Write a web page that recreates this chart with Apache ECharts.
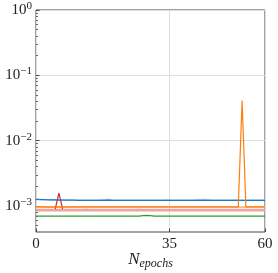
<!DOCTYPE html>
<html><head><meta charset="utf-8">
<script src="https://cdn.jsdelivr.net/npm/echarts@6/dist/echarts.min.js"></script>
<style>html,body{margin:0;padding:0;background:#fff}#c{width:278px;height:273px}</style>
</head><body><div id="c"></div>
<script>
const epochs = Array.from({length: 61}, (_, i) => i);
const xTicks = [0, 35, 60];
const yMajorTicks = [1e-3, 1e-2, 1e-1, 1];
const yMinorTicks = [5e-4,6e-4,7e-4,8e-4,9e-4,2e-3,3e-3,4e-3,5e-3,6e-3,7e-3,8e-3,9e-3,2e-2,3e-2,4e-2,5e-2,6e-2,7e-2,8e-2,9e-2,0.2,0.3,0.4,0.5,0.6,0.7,0.8,0.9];
const blue = [1.26,1.25,1.25,1.24,1.24,1.24,1.23,1.23,1.23,1.23,1.23,1.22,1.22,1.22,1.22,1.22,1.22,1.22,1.22,1.23,1.22,1.22,1.22,1.22,1.22,1.22,1.22,1.22,1.22,1.22,1.22,1.22,1.22,1.22,1.22,1.22,1.22,1.22,1.22,1.22,1.22,1.22,1.22,1.22,1.22,1.22,1.22,1.22,1.22,1.22,1.22,1.22,1.22,1.22,1.22,1.22,1.22,1.22,1.22,1.22,1.22].map(v=>v*1e-3);
const lightBlue = [1.27,1.26,1.25,1.25,1.24,1.24,1.24,1.24,1.23,1.23,1.23,1.23,1.23,1.23,1.23,1.23,1.23,1.24,1.25,1.26,1.24,1.23,1.23,1.23,1.23,1.23,1.23,1.23,1.23,1.23,1.23,1.23,1.23,1.23,1.24,1.23,1.23,1.23,1.23,1.23,1.23,1.23,1.24,1.25,1.26,1.25,1.23,1.23,1.23,1.23,1.23,1.23,1.24,1.23,1.23,1.23,1.23,1.23,1.23,1.23,1.23].map(v=>v*1e-3);
const orange = [0.98,0.98,0.97,0.97,0.97,0.97,0.97,0.97,0.97,0.97,0.97,0.97,0.97,0.97,0.97,0.97,0.97,0.97,0.97,0.97,0.97,0.97,0.97,0.97,0.97,0.97,0.97,0.97,0.97,0.97,0.97,0.97,0.97,0.97,0.97,0.97,0.97,0.97,0.97,0.97,0.97,0.97,0.97,0.97,0.97,0.97,0.97,0.97,0.97,0.97,0.97,0.97,0.97,0.97,41.0,0.97,0.97,0.97,0.97,0.97,0.97].map(v=>v*1e-3);
const lightOrange = [0.95,0.95,0.95,0.95,0.95,0.95,0.95,0.95,0.95,0.95,0.95,0.95,0.95,0.94,0.95,0.95,0.95,0.95,0.95,0.95,0.96,0.95,0.95,0.95,0.95,0.96,0.95,0.95,0.95,0.95,0.95,0.95,0.95,0.95,0.95,0.95,0.95,0.96,0.95,0.95,0.95,0.96,0.95,0.95,0.95,0.96,0.95,0.95,0.95,0.95,0.95,0.95,0.95,0.95,0.95,0.95,0.95,0.95,0.95,0.95,0.95].map(v=>v*1e-3);
const red = [0.88,0.88,0.88,0.88,0.88,0.88,1.58,0.88,0.88,0.88,0.88,0.88,0.88,0.88,0.88,0.88,0.88,0.88,0.88,0.88,0.88,0.88,0.88,0.88,0.88,0.88,0.88,0.88,0.88,0.88,0.88,0.88,0.88,0.88,0.88,0.88,0.88,0.88,0.88,0.88,0.88,0.88,0.88,0.88,0.88,0.88,0.88,0.88,0.88,0.88,0.88,0.88,0.88,0.88,0.88,0.88,0.88,0.88,0.88,0.88,0.88].map(v=>v*1e-3);
const pink = [0.86,0.86,0.86,0.86,0.86,0.86,0.86,0.86,0.86,0.86,0.86,0.86,0.86,0.86,0.86,0.86,0.86,0.86,0.86,0.86,0.86,0.86,0.86,0.86,0.86,0.86,0.86,0.87,0.86,0.86,0.86,0.86,0.86,0.86,0.86,0.86,0.86,0.86,0.86,0.86,0.86,0.86,0.86,0.86,0.86,0.86,0.86,0.86,0.86,0.86,0.86,0.86,0.86,0.86,0.86,0.86,0.86,0.86,0.86,0.86,0.86].map(v=>v*1e-3);
const green = [0.70,0.70,0.70,0.70,0.70,0.70,0.70,0.70,0.70,0.70,0.70,0.70,0.70,0.70,0.70,0.70,0.70,0.70,0.70,0.70,0.70,0.70,0.70,0.70,0.70,0.70,0.70,0.70,0.71,0.72,0.71,0.70,0.70,0.70,0.70,0.70,0.70,0.70,0.70,0.70,0.70,0.70,0.70,0.70,0.70,0.70,0.70,0.70,0.70,0.70,0.70,0.70,0.70,0.70,0.70,0.70,0.70,0.70,0.70,0.70,0.70].map(v=>v*1e-3);

const serif = '"Liberation Serif","DejaVu Serif",serif';
const supMap = {'-3':'−3','-2':'−2','-1':'−1','0':'0'};
function mk(name, data, color, width, z) {
  return {name, type:'line', data: epochs.map((e,i)=>[e,data[i]]), symbol:'none', xAxisIndex:0, yAxisIndex:0,
    lineStyle:{color, width}, z: z||2, animation:false};
}
const chart = echarts.init(document.getElementById('c'));
chart.setOption({
  animation:false,
  grid:{left:36, right:13, top:10, bottom:41, containLabel:false, outerBoundsMode:'none', show:true, borderColor:'#444', borderWidth:1, backgroundColor:'transparent'},
  xAxis:[{type:'value', min:0, max:60, interval:35,
    axisLine:{show:false}, axisTick:{show:true, inside:true, length:3.5, lineStyle:{color:'#444'}},
    axisLabel:{customValues:xTicks, fontFamily:serif, fontSize:15, color:'#222', margin:5},
    splitLine:{show:true, lineStyle:{color:'#ddd', width:1}},
    name:'{n|N}{s|epochs}', nameLocation:'middle', nameGap:18, nameMoveOverlap:false,
    nameTextStyle:{rich:{n:{fontFamily:serif, fontStyle:'italic', fontSize:17, color:'#222'}, s:{fontFamily:serif, fontStyle:'italic', fontSize:12, color:'#222', verticalAlign:'bottom', padding:[8,0,0,0]}}}
  }],
  yAxis:[{type:'log', logBase:10, min:4e-4, max:1,
    axisLine:{show:false},
    axisTick:{show:true, inside:true, length:3.5, customValues:yMajorTicks, lineStyle:{color:'#444'}},
    axisLabel:{customValues:yMajorTicks, margin:4,
      formatter:function(v){const e=Math.round(Math.log10(v)); return '{b|10}{s|'+supMap[String(e)]+'}';},
      rich:{b:{fontFamily:serif, fontSize:15, color:'#222'}, s:{fontFamily:serif, fontSize:11, color:'#222', verticalAlign:'top', padding:[0,0,8,0]}}},
    splitLine:{show:true, lineStyle:{color:'#ddd', width:1}}
  },{type:'log', logBase:10, min:4e-4, max:1, position:'left', offset:0,
    axisLine:{show:false},
    axisTick:{show:true, inside:true, length:2, customValues:yMinorTicks, lineStyle:{color:'#444', width:0.8}},
    axisLabel:{show:false}, splitLine:{show:false}
  }],
  series:[
    mk('lightBlue', lightBlue, '#9ec8e8', 1.2, 2),
    mk('blue', blue, '#1f77b4', 1.2, 3),
    mk('lightOrange', lightOrange, '#ffbb78', 1.5, 2),
    mk('red', red, '#d62728', 1.2, 2),
    mk('pink', pink, '#f4a0a0', 2.5, 3),
    mk('orange', orange, '#ff7f0e', 1.2, 4),
    mk('green', green, '#2ca02c', 1.2, 3)
  ]
});
</script></body></html>
